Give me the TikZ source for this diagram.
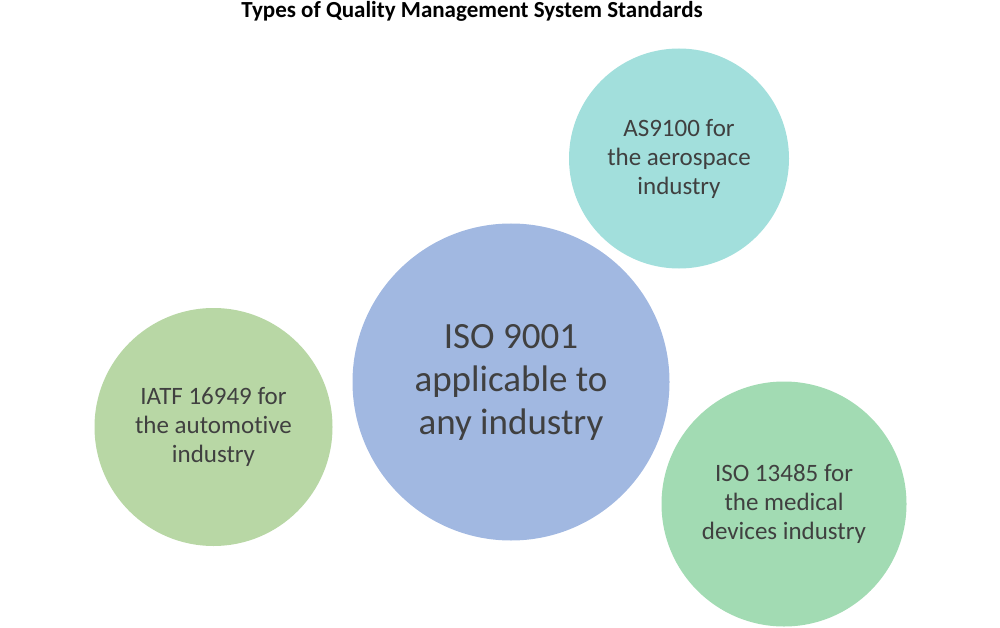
\documentclass[tikz,border=0pt]{standalone}
\usepackage{fontspec}
\setmainfont{Carlito}[Ligatures={NoCommon}]
\usepackage{tikz}

\definecolor{isoblue}{HTML}{A1B8E1}
\definecolor{asteal}{HTML}{A2DFDC}
\definecolor{iatfgreen}{HTML}{B8D7A5}
\definecolor{medgreen}{HTML}{A2DBB3}
\definecolor{textgray}{HTML}{404040}

\begin{document}
\begin{tikzpicture}[x=1pt,y=-1pt,
  stdcircle/.style={circle,inner sep=0pt,text=textgray,align=center,
    font=\fontsize{25}{29}\selectfont}]
  \useasboundingbox (0,0) rectangle (1000,628);
  \node[font=\bfseries\fontsize{23}{27}\selectfont] (title) at (472,11) {Types of Quality Management System Standards};
  \node[stdcircle,fill=isoblue,minimum size=317pt,font=\fontsize{37}{43}\selectfont] (iso) at (511,382) {ISO 9001\\applicable to\\any industry};
  \node[stdcircle,fill=asteal,minimum size=220pt] (as) at (679,158.5) {AS9100 for\\the aerospace\\industry};
  \node[stdcircle,fill=iatfgreen,minimum size=238pt] (iatf) at (213.5,427) {IATF 16949 for\\the automotive\\industry};
  \node[stdcircle,fill=medgreen,minimum size=245pt] (med) at (784,504) {ISO 13485 for\\the medical\\devices industry};
\end{tikzpicture}
\end{document}
